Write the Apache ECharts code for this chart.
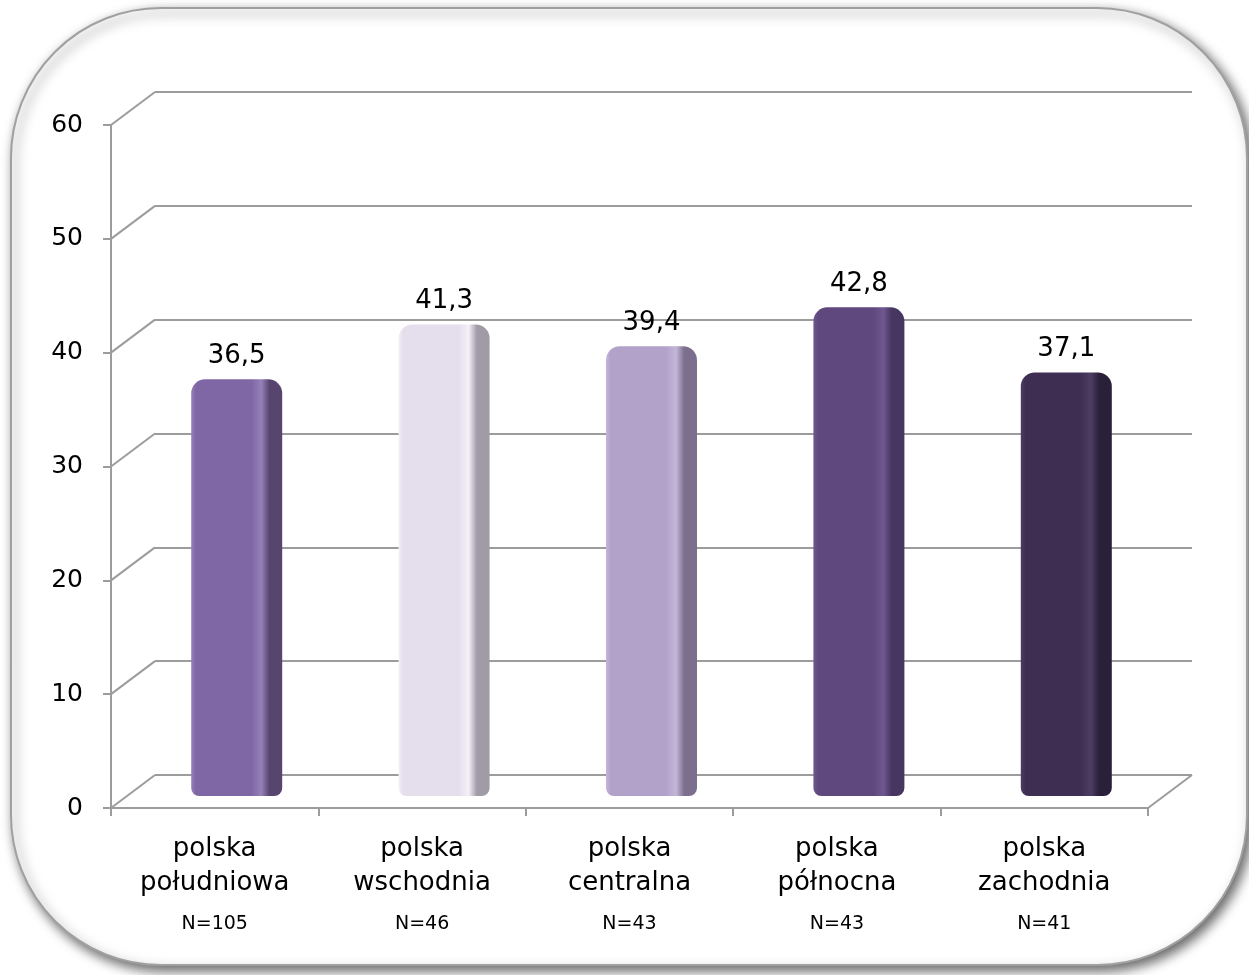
<!DOCTYPE html>
<html>
<head>
<meta charset="utf-8">
<script src="https://cdn.jsdelivr.net/npm/echarts/dist/echarts.min.js"></script>
<style>
html,body{margin:0;padding:0;background:#fff;}
#chart{width:1249px;height:975px;}
</style>
</head>
<body>
<div id="chart"></div>
<script>
// ---- data ----
const categories = ['polska\npołudniowa', 'polska\nwschodnia', 'polska\ncentralna', 'polska\npółnocna', 'polska\nzachodnia'];
const sampleSizes = [105, 46, 43, 43, 41];
const values = [36.5, 41.3, 39.4, 42.8, 37.1];
const yTicks = [0, 10, 20, 30, 40, 50, 60];

// ---- style ----
const FONT = 'DejaVu Sans';
const GRID_COLOR = '#9c9c9c';
const DEPTH_X = 44, DEPTH_Y = -33;
const baseColors  = ['#7f66a4', '#e5dfed', '#b2a2c9', '#5f487d', '#3e2f52'];
const lightColors = ['#9681b8', '#f3f0f7', '#c4b6d8', '#6f5890', '#4d3d64'];
const sideColors  = ['#57446f', '#a19ba8', '#7c6f8e', '#463660', '#2b2039'];

function barGradient(i) {
  return new echarts.graphic.LinearGradient(0, 0, 1, 0, [
    {offset: 0, color: lightColors[i]},
    {offset: 0.05, color: baseColors[i]},
    {offset: 0.66, color: baseColors[i]},
    {offset: 0.77, color: lightColors[i]},
    {offset: 0.86, color: sideColors[i]},
    {offset: 1, color: sideColors[i]}
  ]);
}

const chart = echarts.init(document.getElementById('chart'), null, {renderer: 'canvas'});

const option = {
  animation: false,
  backgroundColor: '#ffffff',
  graphic: {
    elements: [{
      type: 'rect',
      z: -10,
      silent: true,
      shape: {x: 11, y: 8, width: 1236, height: 957, r: 150},
      style: {
        fill: '#ffffff',
        stroke: '#a0a0a0',
        lineWidth: 2,
        shadowBlur: 12,
        shadowOffsetX: 4,
        shadowOffsetY: 5,
        shadowColor: 'rgba(0,0,0,0.6)'
      }
    }]
  },
  grid: [
    {left: 111, top: 125, width: 1037, height: 683, containLabel: false},
    {left: 155, top: 92, width: 1037, height: 683, containLabel: false},
    {left: 133, top: 111, width: 1037, height: 685, containLabel: false}
  ],
  xAxis: [
    {
      gridIndex: 0, type: 'category', data: categories, boundaryGap: true,
      axisLine: {show: true, lineStyle: {color: GRID_COLOR, width: 2}},
      axisTick: {show: true, length: 8, lineStyle: {color: GRID_COLOR, width: 2}},
      axisLabel: {
        margin: 24,
        interval: 0,
        formatter: function (v, idx) {
          const parts = v.split('\n');
          return '{a|' + parts[0] + '}\n{a|' + parts[1] + '}\n{n|N=' + sampleSizes[idx] + '}';
        },
        rich: {
          a: {fontFamily: FONT, fontSize: 26, lineHeight: 34, color: '#000'},
          n: {fontFamily: FONT, fontSize: 19, lineHeight: 48, color: '#000'}
        }
      }
    },
    {gridIndex: 1, type: 'category', data: categories, show: false},
    {gridIndex: 2, type: 'category', data: categories, show: false}
  ],
  yAxis: [
    {
      gridIndex: 0, type: 'value', min: 0, max: 60, interval: 10,
      axisLine: {show: true, lineStyle: {color: GRID_COLOR, width: 2}},
      axisTick: {show: true, length: 8, lineStyle: {color: GRID_COLOR, width: 2}},
      splitLine: {show: false},
      axisLabel: {margin: 28, fontFamily: FONT, fontSize: 25, color: '#000', padding: [5, 0, 0, 0]}
    },
    {
      gridIndex: 1, type: 'value', min: 0, max: 60, interval: 10,
      axisLine: {show: false}, axisTick: {show: false}, axisLabel: {show: false},
      splitLine: {show: true, lineStyle: {color: GRID_COLOR, width: 2}}
    },
    {
      gridIndex: 2, type: 'value', min: 0, max: 60, interval: 10, show: false,
      splitLine: {show: false}
    }
  ],
  series: [
    {
      type: 'custom',
      xAxisIndex: 0, yAxisIndex: 0,
      coordinateSystem: 'cartesian2d',
      clip: false,
      silent: true,
      z: 1,
      data: yTicks.map(v => [0, v]),
      encode: {x: 0, y: 1},
      renderItem: function (params, api) {
        const cs = params.coordSys;
        const v = api.value(1);
        const y = api.coord([0, v])[1];
        const children = [{
          type: 'line',
          shape: {x1: cs.x, y1: y, x2: cs.x + DEPTH_X, y2: y + DEPTH_Y},
          style: {stroke: GRID_COLOR, lineWidth: 2}
        }];
        if (v === 0) {
          children.push({
            type: 'line',
            shape: {x1: cs.x + cs.width, y1: y, x2: cs.x + cs.width + DEPTH_X, y2: y + DEPTH_Y},
            style: {stroke: GRID_COLOR, lineWidth: 2}
          });
        }
        return {type: 'group', children: children};
      }
    },
    {
      type: 'bar',
      xAxisIndex: 2, yAxisIndex: 2,
      z: 3,
      barWidth: 91,
      data: values.map((v, i) => ({
        value: v,
        itemStyle: {color: barGradient(i), borderRadius: [14, 14, 8, 8]}
      })),
      label: {
        show: true,
        position: 'top',
        distance: 10,
        fontFamily: FONT,
        fontSize: 26,
        color: '#000',
        formatter: p => String(p.value).replace('.', ',')
      }
    }
  ]
};

chart.setOption(option);
</script>
</body>
</html>
